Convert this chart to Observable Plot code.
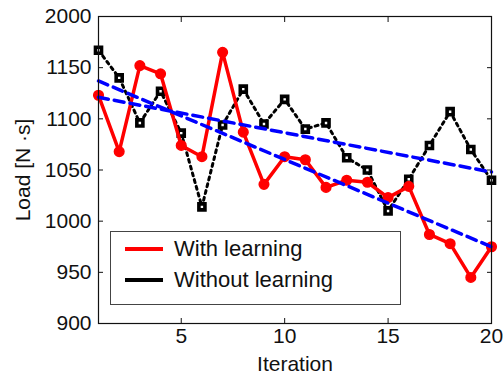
<!DOCTYPE html>
<html><head><meta charset="utf-8">
<script src="https://cdn.jsdelivr.net/npm/d3@7"></script>
<script src="https://cdn.jsdelivr.net/npm/@observablehq/plot@0.6"></script>
<style>
body{margin:0;background:#fff;}
#wrap{position:relative;width:504px;height:376px;font-family:"Liberation Sans",Arial,sans-serif;}
#legend{position:absolute;left:110px;top:231px;width:289px;height:72px;border:1px solid #444;background:#fff;font-size:22px;color:#111;}
.row{position:absolute;left:0;height:30px;display:flex;align-items:center;white-space:nowrap;}
.sw{width:38px;height:4px;margin-left:14px;margin-right:11px;}
</style></head><body>
<div id="wrap"><div id="chart"></div><div id="legend"></div></div>
<script>
const iterations = [1,2,3,4,5,6,7,8,9,10,11,12,13,14,15,16,17,18,19,20];
const withLearning = [1123,1068,1152,1144,1074,1063,1165,1087,1036,1063,1060,1033,1040,1038,1023,1034,987,978,945,975];
const withoutLearning = [1167,1140,1096,1127,1086,1014,1094,1129,1095,1119,1090,1096,1062,1050,1010,1041,1074,1107,1070,1040];
const trendX = [1,20];
const trendWith = [1137,975];
const trendWithout = [1121,1048];
const yTicks = [900,950,1000,1050,1100,1150,1200];
const yTickLabels = ["900","950","1000","1050","1100","1150","2000"];
const xTicks = [5,10,15,20];
const seriesNames = ["With learning","Without learning"];
const seriesColors = ["#ff0000","#000000"];

const data = iterations.map((it,i)=>({iteration:it, with:withLearning[i], without:withoutLearning[i]}));
const trends = [
  ...trendX.map((x,i)=>({x, y:trendWith[i], s:"with"})),
  ...trendX.map((x,i)=>({x, y:trendWithout[i], s:"without"}))
];
const yLabelMap = new Map(yTicks.map((t,i)=>[t,yTickLabels[i]]));

const plot = Plot.plot({
  width:504, height:376,
  marginLeft:98, marginRight:13, marginTop:16, marginBottom:53,
  style:{fontFamily:"Liberation Sans, Arial, sans-serif", fontSize:"21px", color:"#111", background:"#fff", overflow:"visible"},
  x:{domain:[1,20]},
  y:{domain:[900,1200]},
  marks:[
    Plot.axisY(yTicks,{tickSize:0, tickPadding:7, tickFormat:d=>yLabelMap.get(d), label:null}),
    Plot.axisY({label:"Load [N ·s]", labelArrow:"none", labelAnchor:"center", labelOffset:83, tickSize:0, ticks:[], dy:-5}),
    Plot.axisY(yTicks,{tickSize:-5, tickFormat:()=>"", label:null}),
    Plot.axisY(yTicks,{anchor:"right", tickSize:-5, tickFormat:()=>"", label:null}),
    Plot.axisX(xTicks,{tickSize:0, tickPadding:5, label:null}),
    Plot.axisX({label:"Iteration", labelArrow:"none", labelAnchor:"center", labelOffset:47, ticks:[], tickSize:0, dx:-9}),
    Plot.axisX(xTicks,{tickSize:-5, tickFormat:()=>"", label:null}),
    Plot.axisX(xTicks,{anchor:"top", tickSize:-5, tickFormat:()=>"", label:null}),
    Plot.line(data,{x:"iteration", y:"without", stroke:seriesColors[1], strokeWidth:3, strokeDasharray:"3,4"}),
    Plot.dot(data,{x:"iteration", y:"without", symbol:"square", r:3.4, fill:"#fff", stroke:seriesColors[1], strokeWidth:3.6}),
    Plot.line(data,{x:"iteration", y:"with", stroke:seriesColors[0], strokeWidth:3.5}),
    Plot.dot(data,{x:"iteration", y:"with", r:4.8, fill:seriesColors[0], stroke:seriesColors[0]}),
    Plot.line(trends,{x:"x", y:"y", z:"s", stroke:"#0000ff", strokeWidth:3.5, strokeDasharray:"10,6"}),
    Plot.frame({stroke:"#111", strokeWidth:1.2})
  ]
});
document.getElementById("chart").appendChild(plot);

const legend = document.getElementById("legend");
seriesNames.forEach((name,i)=>{
  const row = document.createElement("div");
  row.className = "row";
  row.style.top = (2 + i*31) + "px";
  const sw = document.createElement("div");
  sw.className = "sw";
  sw.style.background = seriesColors[i];
  const t = document.createElement("span");
  t.textContent = name;
  row.appendChild(sw); row.appendChild(t);
  legend.appendChild(row);
});
</script>
</body></html>
